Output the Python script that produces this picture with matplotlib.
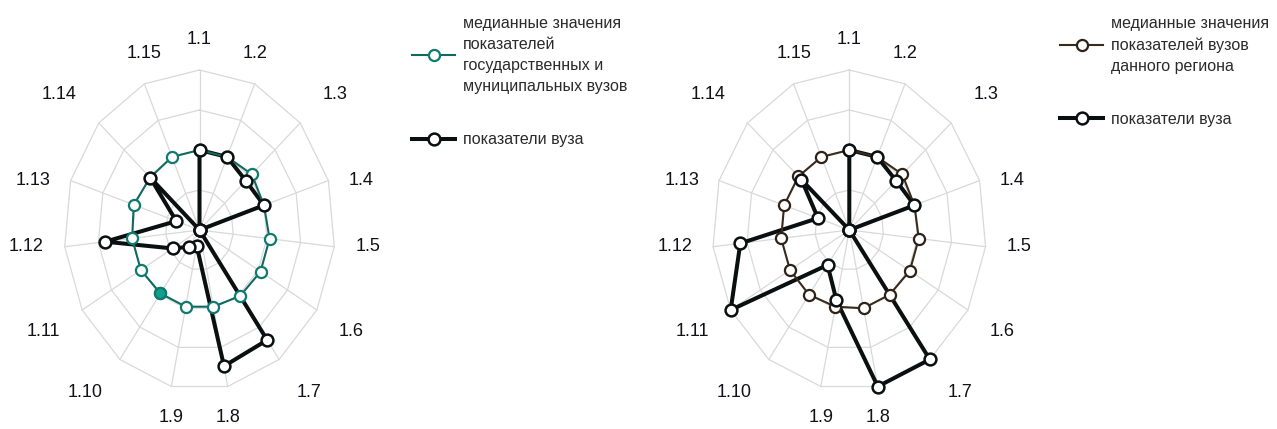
import numpy as np
import matplotlib.pyplot as plt
from matplotlib import font_manager

# axis labels (15 indicators)
categories = ['1.1', '1.2', '1.3', '1.4', '1.5', '1.6', '1.7', '1.8',
              '1.9', '1.10', '1.11', '1.12', '1.13', '1.14', '1.15']

# left chart: medians of state and municipal universities vs the university
median_state = [0.50, 0.50, 0.52, 0.50, 0.52, 0.52, 0.51, 0.49,
                0.49, 0.49, 0.50, 0.50, 0.51, 0.49, 0.50]
vuz_left = [0.50, 0.50, 0.46, 0.50, 0.00, 0.00, 0.85, 0.87,
            0.10, 0.13, 0.23, 0.70, 0.18, 0.49, 0.00]

# right chart: medians of universities of the region vs the university
median_region = [0.50, 0.50, 0.52, 0.50, 0.51, 0.51, 0.50, 0.50,
                 0.49, 0.50, 0.50, 0.50, 0.50, 0.50, 0.50]
vuz_right = [0.50, 0.50, 0.46, 0.50, 0.00, 0.00, 1.00, 1.00,
             0.45, 0.27, 1.00, 0.80, 0.24, 0.47, 0.00]

rings = [0.25, 0.5, 0.75, 1.0]

label_left_median = 'медианные значения\nпоказателей\nгосударственных и\nмуниципальных вузов'
label_right_median = 'медианные значения\nпоказателей вузов\nданного региона'
label_vuz = 'показатели вуза'

names = {f.name for f in font_manager.fontManager.ttflist}
legend_font = 'Liberation Sans Narrow' if 'Liberation Sans Narrow' in names else 'Liberation Sans'
legend_size = 14 if legend_font == 'Liberation Sans Narrow' else 11.5

W, H = 1277, 429
fig = plt.figure(figsize=(W / 100, H / 100), dpi=100)

ang = 2 * np.pi * np.arange(len(categories)) / len(categories)
sx, cy = np.sin(ang), np.cos(ang)


def closed(a):
    return np.append(a, a[0])


def radar(left_px, right_px, cx, rx, ry, median, vuz, med_color, med_edge, fill_idx=None):
    ax = fig.add_axes([left_px / W, 0, (right_px - left_px) / W, 1])
    ax.set_xlim((left_px - cx) / rx, (right_px - cx) / rx)
    ax.set_ylim((230 - H) / ry, 230 / ry)
    ax.axis('off')

    # grid
    for r in rings:
        ax.plot(closed(r * sx), closed(r * cy), color='#d9d9d9', lw=0.9, zorder=1)
    for s, c in zip(sx, cy):
        ax.plot([0, s], [0, c], color='#d9d9d9', lw=0.9, zorder=1)

    med = np.array(median)
    vz = np.array(vuz)

    ax.plot(closed(vz * sx), closed(vz * cy), color='#0a0f0f', lw=2.9, zorder=3)
    hm, = ax.plot(closed(med * sx), closed(med * cy), color=med_color, lw=1.5,
                  marker='o', ms=8, mfc='white', mec=med_edge, mew=1.6, zorder=4)
    if fill_idx is not None:
        ax.plot(med[fill_idx] * sx[fill_idx], med[fill_idx] * cy[fill_idx], 'o',
                ms=8, mfc='#14a08f', mec='#0f7a6e', mew=1.6, zorder=4)
    ax.plot(vz * sx, vz * cy, 'o', ms=8.5, mfc='white', mec='#0a0f0f', mew=1.8, zorder=5)
    hv, = ax.plot([], [], color='#0a0f0f', lw=2.9, marker='o', ms=8.5,
                  mfc='white', mec='#0a0f0f', mew=1.8)

    # category labels
    for lab, s, c in zip(categories, sx, cy):
        ha = 'left' if s > 0.5 else ('right' if s < -0.5 else 'center')
        va = 'bottom' if c > 0.45 else ('top' if c < -0.45 else 'center')
        if ha == 'center' or va == 'center':
            off = 21
        elif abs(c) < 0.6:
            off = 25
        else:
            off = 30
        dx = 0 if ha == 'center' else off * s
        dy = 0 if va == 'center' else off * c
        if ha == 'center':
            dy = 22 * np.sign(c)
        ax.annotate(lab, (s, c), xytext=(dx * 0.72, dy * 0.72), textcoords='offset points',
                    ha=ha, va=va, fontsize=13, family='Liberation Sans',
                    color='#111118', annotation_clip=False)
    return hm, hv


hm1, hv1 = radar(0, 400, 199.5, 135.5, 160, median_state, vuz_left,
                 '#0f6a60', '#0f7a6e', fill_idx=9)
hm2, hv2 = radar(640, 1060, 849.3, 137, 160, median_region, vuz_right,
                 '#3a2a1c', '#2e2218')


def legend(handles, labels, x_px, y_px, spacing):
    leg = fig.legend(handles, labels, loc='upper left',
                     bbox_to_anchor=(x_px / W, 1 - y_px / H), frameon=False,
                     prop={'family': legend_font, 'size': legend_size},
                     handlelength=2.7, handletextpad=0.5, labelspacing=spacing,
                     borderpad=0, borderaxespad=0)
    for t in leg.get_texts():
        t.set_color('#2b2b2b')
        t.set_linespacing(1.5)
    return leg


legend([hm1, hv1], [label_left_median, label_vuz], 412, 16, 2.4)
legend([hm2, hv2], [label_right_median, label_vuz], 1060, 16, 2.4)

fig.savefig('out.png', dpi=100)
